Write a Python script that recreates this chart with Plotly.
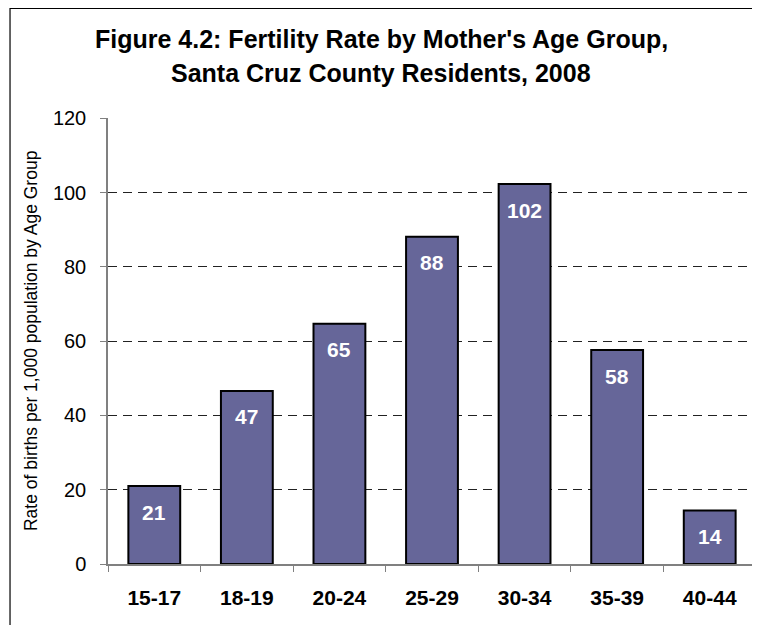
import plotly.graph_objects as go

categories = ["15-17", "18-19", "20-24", "25-29", "30-34", "35-39", "40-44"]
rates = [21.0, 46.6, 64.7, 88.1, 102.3, 57.6, 14.4]
labels = ["21", "47", "65", "88", "102", "58", "14"]
y_ticks = [0, 20, 40, 60, 80, 100, 120]

title_line1 = "Figure 4.2: Fertility Rate by Mother's Age Group,"
title_line2 = "Santa Cruz County Residents, 2008"
y_title = "Rate of births per 1,000 population by Age Group"

FONT = "Liberation Sans, Arial, sans-serif"

fig = go.Figure()
fig.add_trace(go.Bar(
    x=categories, y=rates,
    marker=dict(color="#666699", line=dict(color="black", width=2)),
    hoverinfo="skip",
))

annotations = []
for c, v, t in zip(categories, rates, labels):
    annotations.append(dict(x=c, y=v, xref="x", yref="y", text="<b>%s</b>" % t,
                            showarrow=False, yshift=-26, yanchor="middle",
                            font=dict(family=FONT, size=21, color="white")))

annotations.append(dict(x=0.4213, y=1.1770, xref="paper", yref="paper",
                        text="<b>%s</b>" % title_line1, showarrow=False,
                        xanchor="center", yanchor="middle",
                        font=dict(family=FONT, size=25, color="black")))
annotations.append(dict(x=0.4213, y=1.1010, xref="paper", yref="paper",
                        text="<b>%s</b>" % title_line2, showarrow=False,
                        xanchor="center", yanchor="middle",
                        font=dict(family=FONT, size=25, color="black")))
annotations.append(dict(x=-0.1188, y=0.5, xref="paper", yref="paper",
                        text=y_title, showarrow=False, textangle=-90,
                        xanchor="center", yanchor="middle",
                        font=dict(family=FONT, size=17.5, color="black")))

fig.update_layout(
    width=760, height=625,
    margin=dict(l=100, r=12, t=110, b=69),
    paper_bgcolor="white", plot_bgcolor="white",
    bargap=0.44,
    showlegend=False,
    annotations=annotations,
    shapes=[dict(type="rect", xref="paper", yref="paper",
                 x0=-0.1512, x1=0.9954, y0=-0.3, y1=1.2455,
                 line=dict(color="black", width=1.2), layer="below")],
    font=dict(family=FONT, color="black"),
)

fig.update_xaxes(
    showline=True, linecolor="#808080", linewidth=1.5,
    ticks="outside", tickson="boundaries", ticklen=6, tickcolor="#808080",
    tickfont=dict(family=FONT, size=21, color="black"),
    tickprefix="<b>", ticksuffix="</b>",
    ticklabelstandoff=14,
    showgrid=False,
)
fig.update_yaxes(
    range=[0, 120.1], tickvals=y_ticks,
    showline=True, linecolor="#808080", linewidth=1.5,
    ticks="outside", ticklen=6, tickcolor="#808080",
    tickfont=dict(family=FONT, size=20, color="black"),
    ticklabelstandoff=10,
    showgrid=True, gridcolor="#222222", gridwidth=1, griddash="9px,6px",
    zeroline=False,
)

fig.write_html("out.html")
